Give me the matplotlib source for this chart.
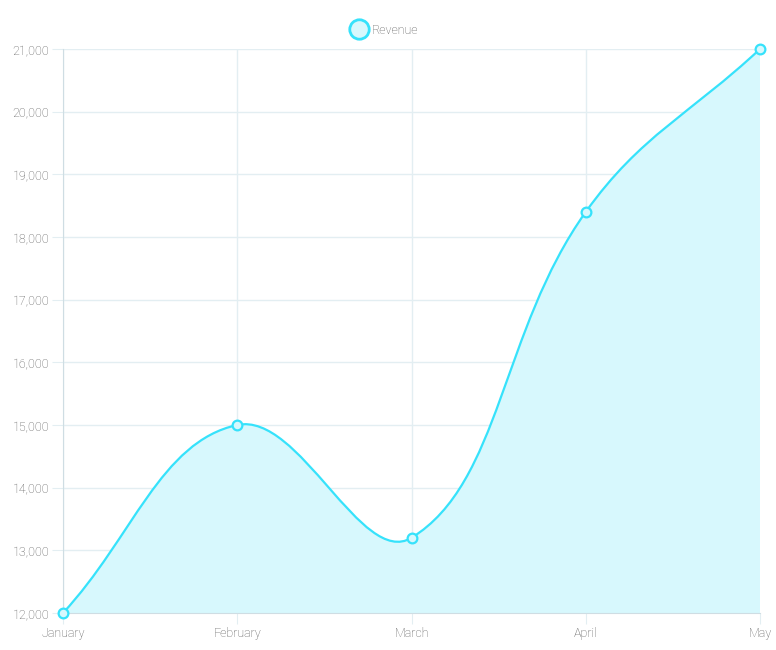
import matplotlib.pyplot as plt
import numpy as np
from matplotlib.path import Path
from matplotlib.patches import PathPatch

months = ['January', 'February', 'March', 'April', 'May']
revenue = [12000, 15000, 13200, 18400, 21000]
y_ticks = [12000, 13000, 14000, 15000, 16000, 17000, 18000, 19000, 20000, 21000]

line_color = '#36e2fb'
fill_color = '#d7f8fd'
grid_color = '#e3eef2'
text_color = '#5a5a5a'

plt.rcParams['font.family'] = ['Roboto', 'DejaVu Sans']

fig = plt.figure(figsize=(7.76, 6.5), dpi=100)
ax = fig.add_axes([63 / 776, 37 / 650, 697 / 776, 564 / 650])
x = np.arange(len(months))
ax.set_xlim(0, len(months) - 1)
ax.set_ylim(12000, 21000)


def spline_path(xs, ys, tension=0.4):
    # bezier control points like Chart.js, computed in pixel space
    pts = ax.transData.transform(np.column_stack([xs, ys]))
    n = len(pts)
    verts = [pts[0]]
    codes = [Path.MOVETO]
    cps = []
    for i in range(n):
        prev = pts[i - 1] if i > 0 else pts[i]
        cur = pts[i]
        nxt = pts[i + 1] if i < n - 1 else pts[i]
        d01 = np.hypot(*(cur - prev))
        d12 = np.hypot(*(nxt - cur))
        tot = d01 + d12
        s01 = d01 / tot if tot else 0
        s12 = d12 / tot if tot else 0
        cps.append((cur - tension * s01 * (nxt - prev), cur + tension * s12 * (nxt - prev)))
    for i in range(1, n):
        verts += [cps[i - 1][1], cps[i][0], pts[i]]
        codes += [Path.CURVE4] * 3
    inv = ax.transData.inverted()
    return np.array([inv.transform(v) for v in verts]), codes


verts, codes = spline_path(x, revenue)
fill_verts = np.vstack([verts, [[x[-1], 12000], [x[0], 12000], verts[0]]])
fill_codes = codes + [Path.LINETO, Path.LINETO, Path.CLOSEPOLY]
ax.add_patch(PathPatch(Path(fill_verts, fill_codes), facecolor=fill_color,
                       edgecolor='none', zorder=1))
ax.add_patch(PathPatch(Path(verts, codes), facecolor='none', edgecolor=line_color,
                       linewidth=1.6, zorder=3, clip_on=False))
ax.plot(x, revenue, linestyle='none', marker='o', markersize=7,
        markerfacecolor=fill_color, markeredgecolor=line_color,
        markeredgewidth=1.6, zorder=4, clip_on=False)

ax.set_xticks(x)
ax.set_xticklabels(months)
ax.set_yticks(y_ticks)
ax.set_yticklabels([f'{v:,}' for v in y_ticks])
ax.grid(True, color=grid_color, linewidth=1, zorder=0)
ax.set_axisbelow(True)
for side in ['top', 'right']:
    ax.spines[side].set_visible(False)
for side in ['left', 'bottom']:
    ax.spines[side].set_color('#cfdde3')
ax.tick_params(axis='both', length=8, color=grid_color, labelcolor=text_color,
               labelsize=9, pad=2)
for lbl in ax.get_xticklabels() + ax.get_yticklabels():
    lbl.set_fontweight('light')

# legend, centred on the figure like Chart.js
handle, = ax.plot([], [], linestyle='none', marker='o', markersize=14,
                  markerfacecolor=fill_color, markeredgecolor=line_color,
                  markeredgewidth=2)
leg = fig.legend([handle], ['Revenue'], loc='center', bbox_to_anchor=(0.494, 1 - 30 / 650),
                 frameon=False, handletextpad=0.25, handlelength=1.6, fontsize=9,
                 borderpad=0)
for t in leg.get_texts():
    t.set_color(text_color)
    t.set_fontweight('light')

fig.savefig('out.png', dpi=100)
